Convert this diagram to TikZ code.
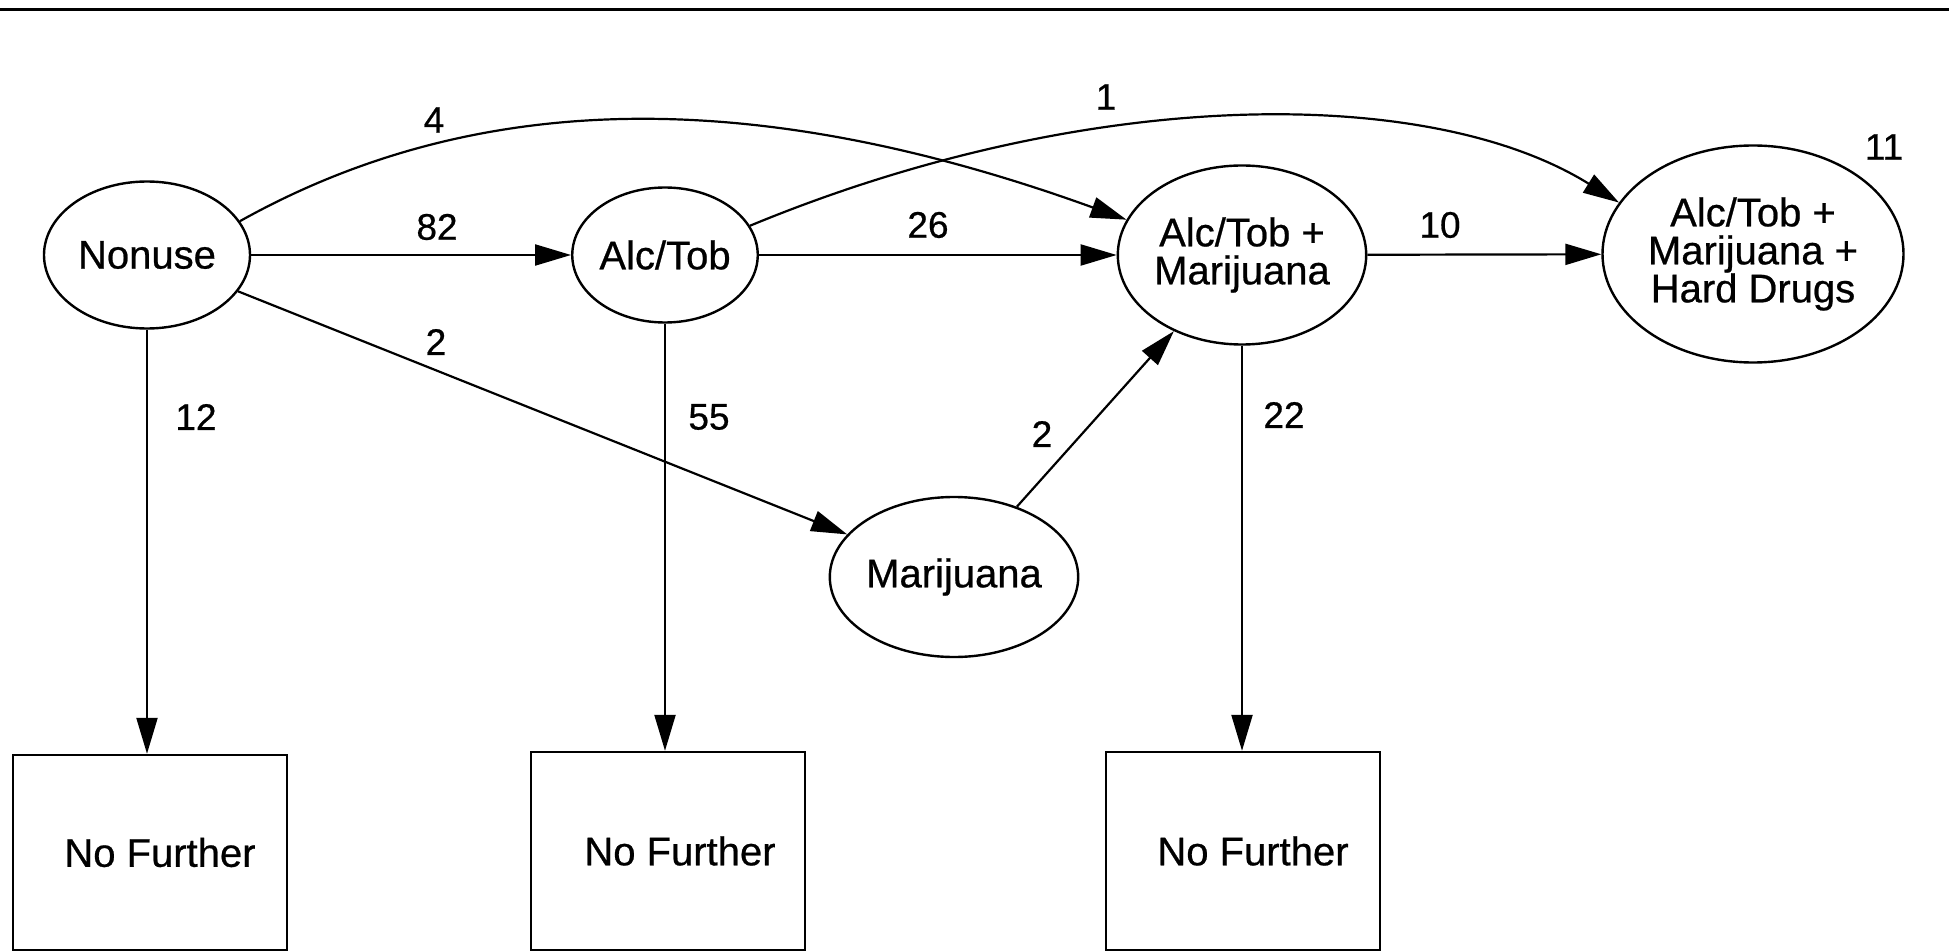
\documentclass[tikz,border=0pt]{standalone}
\usepackage{fontspec}
\setmainfont{Liberation Sans}
\newfontfamily\diagfont{Liberation Sans}[FakeBold=0.6]
\usetikzlibrary{shapes.geometric,arrows.meta}
\begin{document}
\begin{tikzpicture}[x=0.5pt,y=-0.5pt,
  state/.style={ellipse,draw,line width=1.2pt,inner sep=0pt,align=center,font=\diagfont\fontsize{20}{19}\selectfont},
  endbox/.style={rectangle,draw,line width=1.2pt,inner sep=0pt,minimum width=137pt,minimum height=99pt,font=\diagfont\fontsize{20}{24}\selectfont},
  num/.style={font=\diagfont\fontsize{18.5}{20}\selectfont,inner sep=0pt},
  flow/.style={-{Triangle[length=18pt,width=10.5pt]},line width=1.1pt}]
\useasboundingbox (0,0) rectangle (1949,952);
\fill[white] (0,0) rectangle (1949,952);
\draw[line width=1.6pt] (0,9.5) -- (1949,9.5);
% states
\node[state,minimum width=103pt,minimum height=73.5pt] (nonuse) at (147,255) {Nonuse};
\node[state,minimum width=92pt,minimum height=67.5pt] (alctob) at (665,255) {Alc/Tob};
\node[state,minimum width=124pt,minimum height=89.5pt] (am) at (1242,255) {Alc/Tob +\\Marijuana};
\node[state,minimum width=150.5pt,minimum height=108.5pt] (amh) at (1753,254) {Alc/Tob +\\Marijuana +\\Hard Drugs};
\node[state,minimum width=110pt,minimum height=80pt] (mar) at (954,577) {Marijuana};
% end boxes
\node[endbox,minimum height=97.5pt] (b1) at (150,852.5) {\hspace*{10pt}No Further};
\node[endbox] (b2) at (668,851) {\hspace*{12pt}No Further};
\node[endbox] (b3) at (1243,851) {\hspace*{10pt}No Further};
% labels
\node[num] (l4) at (434,120) {4};
\node[num] (l82) at (437,227) {82};
\node[num] (l2a) at (436,342) {2};
\node[num] (l12) at (196,417) {12};
\node[num] (l55) at (709,417) {55};
\node[num] (l26) at (928,225) {26};
\node[num] (l1) at (1106,97) {1};
\node[num] (l10) at (1440,225) {10};
\node[num] (l11) at (1884,147) {11};
\node[num] (l2b) at (1042,434) {2};
\node[num] (l22) at (1284,415) {22};
% connectors
\draw[flow] (nonuse) -- (alctob);
\draw[flow] (alctob) -- (am);
\draw[flow] (am) -- (amh);
\draw[flow] (nonuse) -- (mar);
\draw[flow] (mar) -- (am);
\draw[flow] (nonuse.20) .. controls (480,87) and (760,87) .. (am.163);
\draw[flow] (alctob.19) .. controls (1090,85) and (1430,85) .. (amh.159);
\draw[flow] (nonuse.south) -- (nonuse.south |- b1.north);
\draw[flow] (alctob.south) -- (alctob.south |- b2.north);
\draw[flow] (am.south) -- (am.south |- b3.north);
\end{tikzpicture}
\end{document}
